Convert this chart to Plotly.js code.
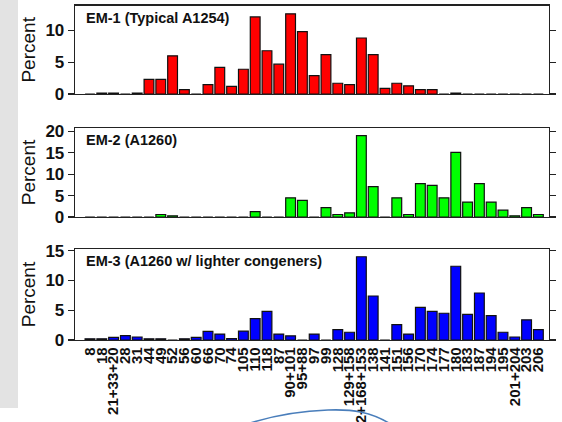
<!DOCTYPE html>
<html><head><meta charset="utf-8">
<script src="https://cdn.plot.ly/plotly-3.0.1.min.js"></script>
<style>
html,body{margin:0;padding:0;background:#fff;}
#wrap{position:relative;width:562px;height:422px;overflow:hidden;background:#fff;}
#strip{position:absolute;left:0;top:0;width:18px;height:408px;background:#e3e3e3;}
#chart{position:absolute;left:0;top:0;width:562px;height:422px;}
#ink{position:absolute;left:0;top:0;pointer-events:none;}
</style></head><body>
<div id="wrap"><div id="strip"></div><div id="chart"></div>
<svg id="ink" width="562" height="422"><path d="M244,425 C268,417 298,411 328,410 C352,409 372,412 392,425" stroke="#4a7ebb" stroke-width="1.6" fill="none"/></svg></div>
<script>
const congeners = ["8","18","21+33+20","28","31","44","49","52","56","60","66","70","74","105","110","118","87","90+101","95+88","97","99","128","129+158","132+168+153","138","141","151","156","170","174","177","180","183","187","194","195","201+204","203","206"];
const em1 = [0,0.15,0.15,0,0.15,2.3,2.3,6.0,0.7,0,1.5,4.2,1.2,3.9,12.1,6.8,4.7,12.6,9.8,2.9,6.2,1.7,1.5,8.8,6.2,0.9,1.7,1.3,0.7,0.7,0,0.15,0,0,0,0,0,0,0];
const em2 = [0,0,0,0,0,0,0.6,0.3,0,0,0,0,0,0,1.25,0,0,4.5,3.9,0,2.2,0.6,1.0,19.0,7.1,0,4.5,0.6,7.8,7.4,4.5,15.1,3.5,7.8,3.5,1.6,0.3,2.2,0.6];
const em3 = [0.2,0.2,0.45,0.75,0.5,0.2,0.2,0,0.2,0.45,1.45,1.0,0.25,1.5,3.6,4.8,1.0,0.7,0,1.0,0,1.75,1.3,14.0,7.4,0,2.6,1.0,5.5,4.8,4.5,12.4,4.3,7.9,4.1,1.3,0.5,3.4,1.75];
const panelTitles = ["EM-1 (Typical A1254)","EM-2 (A1260)","EM-3 (A1260 w/ lighter congeners)"];
const yTitle = "Percent";

const FONT = "Liberation Sans, Arial, Helvetica, sans-serif";
const outline = {color:"#111", width:1.2};
const traces = [
  {type:"bar", x:congeners, y:em3, xaxis:"x", yaxis:"y", marker:{color:"#0000ff", line:outline}},
  {type:"bar", x:congeners, y:em2, xaxis:"x2", yaxis:"y2", marker:{color:"#00ff00", line:outline}},
  {type:"bar", x:congeners, y:em1, xaxis:"x3", yaxis:"y3", marker:{color:"#ff0000", line:outline}}
];
const xr = [-1.27, 38.9];
function xa(anchor, labels){
  return {type:"category", anchor:anchor, domain:[0,1], range:xr, showline:true, mirror:true,
    linecolor:"#222", linewidth:1.3, ticks:"", showgrid:false, zeroline:false,
    tickmode:"array", tickvals:congeners, ticktext:congeners,
    showticklabels:labels, tickangle:-90, automargin:false,
    tickfont:{family:FONT, size:15, color:"#111", weight:700}};
}
function ya(anchor, dom, top){
  return {anchor:anchor, domain:dom, range:[0,top], dtick:5, tick0:0, showline:true, mirror:"ticks",
    linecolor:"#222", linewidth:1.3, ticks:"outside", ticklen:6, tickwidth:1.3, tickcolor:"#222",
    showgrid:false, zeroline:false, automargin:false,
    tickfont:{family:FONT, size:17, color:"#111", weight:700},
    title:{text:yTitle, font:{family:FONT, size:19, color:"#111"}, standoff:4}};
}
const doms = [[0,0.2716],[0.367,0.633],[0.734,0.9985]];
const tops = [15.3, 20.8, 13.9];
const layout = {
  width:562, height:422, margin:{l:75, r:13, t:5, b:82},
  paper_bgcolor:"rgba(0,0,0,0)", plot_bgcolor:"#fff", showlegend:false, bargap:0.17,
  xaxis:xa("y", true), xaxis2:xa("y2", false), xaxis3:xa("y3", false),
  yaxis:ya("x", doms[0], tops[0]), yaxis2:ya("x2", doms[1], tops[1]), yaxis3:ya("x3", doms[2], tops[2]),
  annotations:[
    {text:panelTitles[0], xref:"paper", x:0.019, yref:"y3 domain", y:1, xanchor:"left", yanchor:"top", yshift:-2, showarrow:false, font:{family:FONT, size:14.5, color:"#111", weight:700}},
    {text:panelTitles[1], xref:"paper", x:0.019, yref:"y2 domain", y:1, xanchor:"left", yanchor:"top", yshift:-2, showarrow:false, font:{family:FONT, size:14.5, color:"#111", weight:700}},
    {text:panelTitles[2], xref:"paper", x:0.019, yref:"y domain", y:1, xanchor:"left", yanchor:"top", yshift:-2, showarrow:false, font:{family:FONT, size:14.5, color:"#111", weight:700}}
  ]
};
Plotly.newPlot("chart", traces, layout, {staticPlot:true, displayModeBar:false});
</script></body></html>
